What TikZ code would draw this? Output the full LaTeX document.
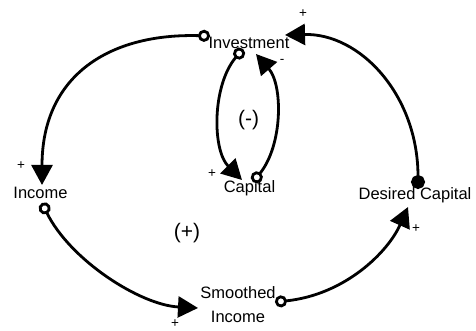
\documentclass[tikz,border=0pt]{standalone}
\usepackage{fontspec}
\setmainfont{Liberation Sans}
\usetikzlibrary{arrows.meta,calc}
\begin{document}
\begin{tikzpicture}[x=1pt,y=-1pt,
  lbl/.style={inner sep=0pt, font=\fontsize{16.5}{24}\selectfont},
  sgn/.style={inner sep=0pt, font=\fontsize{13.5}{14}\selectfont},
  looplbl/.style={inner sep=0pt, font=\fontsize{21}{24}\selectfont},
  link/.style={line width=2.8pt, {Circle[open,length=12pt]}-{Triangle[length=20pt,width=21pt]}},
  linkdot/.style={line width=2.8pt, {Circle[length=14pt]}-{Triangle[length=20pt,width=21pt]}}]
\useasboundingbox (0,0) rectangle (476,331);
% variables
\node[lbl, anchor=base] (inv) at (249,49) {Investment};
\node[lbl, anchor=base] (cap) at (249.5,193) {Capital};
\node[lbl, anchor=base] (inc) at (40.5,198) {Income};
\node[lbl, anchor=base] (dc) at (415,200) {Desired Capital};
\node[lbl, align=center] (sm) at (238,305) {Smoothed\\Income};
% loop labels
\node[looplbl] (lneg) at (248.5,120) {(-)};
\node[looplbl] (lpos) at (187,233) {(+)};
% connectors
\draw[link] ($(inv.base)+(-39,-13)$) .. controls (110,33) and (42,75) .. ($(inc.base)+(1.5,-13)$);
\draw[link] ($(inc.base)+(1.5,5)$) .. controls (70,260) and (140,305) .. ($(sm)+(-40,3)$);
\draw[link] ($(sm)+(37,-3)$) .. controls (345,295) and (388,252) .. ($(dc.base)+(-7,7)$);
\draw[linkdot] ($(dc.base)+(3,-11)$) .. controls (418,95) and (360,33) .. ($(inv.base)+(36,-14)$);
\draw[link] ($(inv.base)+(-6,0)$) .. controls (212,85) and (212,150) .. ($(cap.base)+(-7.5,-13)$);
\draw[link] ($(cap.base)+(3.5,-11)$) .. controls (283,145) and (283,85) .. ($(inv.base)+(7,5)$);
% polarity signs
\node[sgn] (s1) at (21,166) {+};
\node[sgn] (s2) at (175,324) {+};
\node[sgn] (s3) at (416,229) {+};
\node[sgn] (s4) at (303,14) {+};
\node[sgn] (s5) at (212,174) {+};
\node[sgn] (s6) at (282,61) {-};
\end{tikzpicture}
\end{document}
